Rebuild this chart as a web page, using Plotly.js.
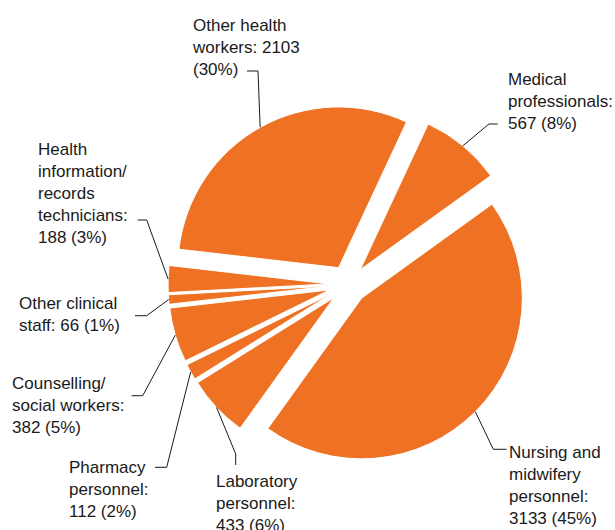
<!DOCTYPE html>
<html>
<head>
<meta charset="utf-8">
<script src="https://cdn.plot.ly/plotly-3.0.1.min.js"></script>
<style>html,body{margin:0;padding:0;background:#fff;}#chart{width:615px;height:530px;}</style>
</head>
<body>
<div id="chart"></div>
<script>
// ---- data ----
var categories = [
  "Medical professionals",
  "Nursing and midwifery personnel",
  "Laboratory personnel",
  "Pharmacy personnel",
  "Counselling/ social workers",
  "Other clinical staff",
  "Health information/ records technicians",
  "Other health workers"
];
var values = [567, 3133, 433, 112, 382, 66, 188, 2103];
var percentLabels = ["8%", "45%", "6%", "2%", "5%", "1%", "3%", "30%"];
var labelTexts = [
  "Medical<br>professionals:<br>567 (8%)",
  "Nursing and<br>midwifery<br>personnel:<br>3133 (45%)",
  "Laboratory<br>personnel:<br>433 (6%)",
  "Pharmacy<br>personnel:<br>112 (2%)",
  "Counselling/<br>social workers:<br>382 (5%)",
  "Other clinical<br>staff: 66 (1%)",
  "Health<br>information/<br>records<br>technicians:<br>188 (3%)",
  "Other health<br>workers: 2103<br>(30%)"
];

// ---- layout / style ----
var W = 615, H = 530;
var cx = 348, cy = 284.5, Rout = 180;   // pie centre and outer extent (px)
var pull = 0.12, rotation = 25;
var orange = "#EF7123";

// label block: left x, centre y (px); leader: elbow points (px), last point computed from data
var labelPos = [
  {x: 506, y: 102, elbow: [[497.7, 124], [489, 124]]},
  {x: 507, y: 485, elbow: [[506.7, 449.3], [493.3, 449.3]]},
  {x: 214, y: 503, elbow: [[235.7, 465], [235.7, 454]]},
  {x: 67,  y: 489, elbow: [[155, 467.3], [166.7, 467.3]]},
  {x: 10,  y: 405, elbow: [[131.7, 395.7], [142.7, 395.7]]},
  {x: 17,  y: 314, elbow: [[135, 315.7], [146.7, 315.7]]},
  {x: 36,  y: 193, elbow: [[137.7, 220], [146.7, 220]]},
  {x: 190, y: 47.5, elbow: [[247, 71], [258, 71]]}
];

function px2x(p) { return p / W; }
function py2y(p) { return 1 - p / H; }

var total = values.reduce(function (a, b) { return a + b; }, 0);
var annotations = [], shapes = [];
var cum = 0;
for (var i = 0; i < values.length; i++) {
  var mid = rotation + (cum + values[i] / 2) / total * 360;
  cum += values[i];
  var rad = mid * Math.PI / 180;
  var ex = cx + Rout * Math.sin(rad), ey = cy - Rout * Math.cos(rad);
  var lp = labelPos[i];
  var pts = lp.elbow.concat([[ex, ey]]);
  var path = pts.map(function (p, k) {
    return (k === 0 ? "M" : "L") + px2x(p[0]).toFixed(5) + "," + py2y(p[1]).toFixed(5);
  }).join(" ");
  shapes.push({type: "path", xref: "paper", yref: "paper", path: path,
               line: {color: "#1a1a1a", width: 1}});
  annotations.push({
    xref: "paper", yref: "paper", x: px2x(lp.x), y: py2y(lp.y),
    xanchor: "left", yanchor: "middle", align: "left", showarrow: false,
    text: labelTexts[i],
    font: {family: "Liberation Sans, Arial, Helvetica, sans-serif", size: 17, color: "#1a1a1a"}
  });
}

var trace = {
  type: "pie",
  labels: categories,
  values: values,
  sort: false,
  direction: "clockwise",
  rotation: rotation,
  pull: values.map(function () { return pull; }),
  textinfo: "none",
  hoverinfo: "label+value+percent",
  marker: {colors: values.map(function () { return orange; }), line: {color: "#ffffff", width: 1}},
  domain: {x: [px2x(cx - Rout), px2x(cx + Rout)], y: [py2y(cy + Rout), py2y(cy - Rout)]}
};

var layout = {
  width: W, height: H,
  margin: {l: 0, r: 0, t: 0, b: 0},
  showlegend: false,
  paper_bgcolor: "#ffffff",
  annotations: annotations,
  shapes: shapes
};

Plotly.newPlot("chart", [trace], layout, {displayModeBar: false, staticPlot: true});
</script>
</body>
</html>
